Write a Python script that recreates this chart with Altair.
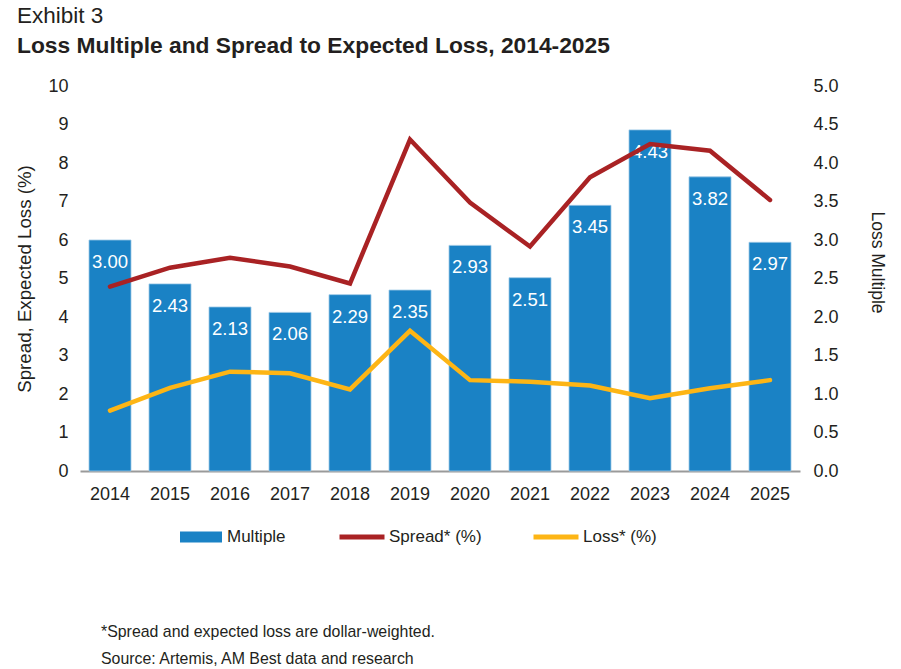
import altair as alt
import pandas as pd

years = ["2014", "2015", "2016", "2017", "2018", "2019", "2020", "2021", "2022", "2023", "2024", "2025"]
multiple = [3.00, 2.43, 2.13, 2.06, 2.29, 2.35, 2.93, 2.51, 3.45, 4.43, 3.82, 2.97]
spread = [4.79, 5.28, 5.54, 5.31, 4.87, 8.61, 6.97, 5.83, 7.63, 8.49, 8.32, 7.04]
loss = [1.57, 2.16, 2.58, 2.54, 2.12, 3.64, 2.36, 2.32, 2.22, 1.89, 2.15, 2.36]
footnotes = ["*Spread and expected loss are dollar-weighted.", "Source: Artemis, AM Best data and research"]

FONT = "Liberation Sans"
TXT = "#231f20"
BLUE = "#1a82c5"
RED = "#a92224"
GOLD = "#fdb515"

bars_df = pd.DataFrame({"year": years, "multiple": multiple, "lab": [f"{v:.2f}" for v in multiple], "s": "Multiple"})
lines_df = pd.DataFrame({
    "year": years * 2,
    "value": spread + loss,
    "series": ["Spread* (%)"] * len(years) + ["Loss* (%)"] * len(years),
})
foot_df = pd.DataFrame({"t": ["\n".join(footnotes)]})

xenc = alt.X("year:N", title=None, scale=alt.Scale(paddingInner=0.3, paddingOuter=0.15),
             axis=alt.Axis(labelAngle=0, ticks=False, domainColor="#9a9a9a", domainWidth=2,
                           labelPadding=14, labelFontSize=18, labelColor=TXT, labelFont=FONT))

right_axis = alt.Axis(orient="right", values=[0, 0.5, 1, 1.5, 2, 2.5, 3, 3.5, 4, 4.5, 5], format=".1f",
                      grid=False, ticks=False, domain=False, labelPadding=13,
                      labelFontSize=18, labelColor=TXT, labelFont=FONT,
                      titleFontSize=17.5, titleFontWeight="normal", titleColor=TXT, titleFont=FONT,
                      titlePadding=29, titleY=176)

bars = alt.Chart(bars_df).mark_bar(stroke="#9cc8e6", strokeWidth=0.8).encode(
    x=xenc,
    y=alt.Y("multiple:Q", title="Loss Multiple", scale=alt.Scale(domain=[0, 5]), axis=right_axis),
    fill=alt.Fill("s:N", scale=alt.Scale(domain=["Multiple"], range=[BLUE]),
                  legend=alt.Legend(title=None, orient="none", legendX=100, legendY=430, direction="horizontal",
                                    symbolType="M-1,-0.26H1V0.26H-1Z", symbolSize=1764, symbolStrokeWidth=0,
                                    labelFontSize=17, labelColor=TXT, labelFont=FONT, labelOffset=5)),
)

labels = alt.Chart(bars_df).mark_text(color="white", fontSize=18.5, font=FONT, baseline="middle", dy=22).encode(
    x=alt.X("year:N"),
    y=alt.Y("multiple:Q", title="Loss Multiple", scale=alt.Scale(domain=[0, 5]), axis=right_axis),
    text="lab:N",
)

right_layer = alt.layer(bars, labels)

lines = alt.Chart(lines_df).mark_line(strokeWidth=4.5, strokeCap="round", strokeJoin="miter").encode(
    x=alt.X("year:N"),
    y=alt.Y("value:Q", title="Spread, Expected Loss (%)", scale=alt.Scale(domain=[0, 10]),
            axis=alt.Axis(orient="left", values=list(range(0, 11)), grid=False, ticks=False, domain=False,
                          labelPadding=12, labelFontSize=18, labelColor=TXT, labelFont=FONT,
                          titleFontSize=18.7, titleFontWeight="normal", titleColor=TXT, titleFont=FONT,
                          titlePadding=13)),
    stroke=alt.Stroke("series:N", scale=alt.Scale(domain=["Spread* (%)", "Loss* (%)"], range=[RED, GOLD]),
                      legend=alt.Legend(title=None, orient="none", legendX=257, legendY=426, direction="horizontal",
                                        symbolType="stroke", symbolSize=2025, symbolStrokeWidth=5,
                                        labelFontSize=17, labelColor=TXT, labelFont=FONT, labelOffset=2,
                                        columnPadding=41)),
    detail="series:N",
)

foot = alt.Chart(foot_df).mark_text(align="left", baseline="middle", fontSize=15.9, font=FONT, color=TXT,
                                    lineBreak="\n", lineHeight=27).encode(
    x=alt.value(21), y=alt.value(546), text="t:N")

chart = alt.layer(right_layer, lines, foot).resolve_scale(y="independent", fill="independent", stroke="independent").properties(
    width=720, height=385,
    title=alt.TitleParams(
        text="Exhibit 3",
        subtitle="Loss Multiple and Spread to Expected Loss, 2014-2025",
        anchor="start", frame="group", dx=-63, offset=19,
        font=FONT, fontSize=22.5, fontWeight="normal", color=TXT,
        subtitleFont=FONT, subtitleFontSize=22.8, subtitleFontWeight="bold", subtitleColor=TXT,
        subtitlePadding=8,
    ),
    autosize=alt.AutoSizeParams(type="none"),
    padding={"left": 80, "top": 86, "right": 101, "bottom": 198},
).configure(background="white", view=alt.ViewConfig(stroke="transparent"))

chart.save("out.html", embed_options={"renderer": "svg", "actions": False})
